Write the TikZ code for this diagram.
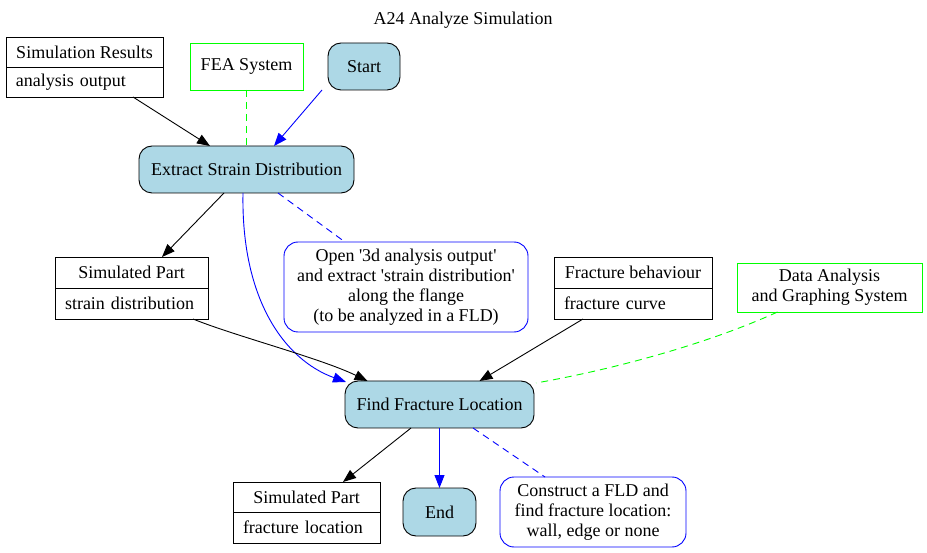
\documentclass[tikz,border=0pt]{standalone}
\usepackage{fontspec}
\setmainfont{Liberation Serif}
\usetikzlibrary{arrows.meta,calc}
\definecolor{lb}{RGB}{173,216,230}
\definecolor{gvgreen}{RGB}{0,255,0}
\definecolor{gvblue}{RGB}{0,0,255}
\begin{document}
\begin{tikzpicture}[x=1pt,y=-1pt,
  font=\fontsize{18}{20}\selectfont, line width=0.9pt,
  every node/.style={inner sep=0pt, outer sep=0pt},
  proc/.style={draw=black, fill=lb, rounded corners=13pt},
  rec/.style={draw=black},
  recb/.style={draw=black, align=left},
  sys/.style={draw=gvgreen},
  note/.style={draw=gvblue, rounded corners=14pt, align=center},
  arr/.style={-{Triangle[length=13pt,width=10pt]}},
  blk/.style={draw=black, arr},
  blu/.style={draw=gvblue, arr},
  gdash/.style={draw=gvgreen, dash pattern=on 7pt off 5pt},
  bdash/.style={draw=gvblue, dash pattern=on 7pt off 5pt}]
\useasboundingbox (0,0) rectangle (927,553);
\node (title) at (463,20) {A24 Analyze Simulation};
% records
\node[rec, minimum width=157pt, minimum height=30pt] (srt) at (84.5,52) {Simulation Results};
\node[recb, minimum width=157pt, minimum height=30pt, text width=137pt, anchor=north] (srb) at (srt.south) {analysis output};
\node[rec, minimum width=153pt, minimum height=31pt] (sp1t) at (131.5,272.5) {Simulated Part};
\node[recb, minimum width=153pt, minimum height=31pt, text width=133pt, anchor=north] (sp1b) at (sp1t.south) {strain distribution};
\node[rec, minimum width=158pt, minimum height=31pt] (fbt) at (633,272.5) {Fracture behaviour};
\node[recb, minimum width=158pt, minimum height=31pt, text width=138pt, anchor=north] (fbb) at (fbt.south) {fracture curve};
\node[rec, minimum width=147pt, minimum height=30pt] (sp2t) at (306.5,497) {Simulated Part};
\node[recb, minimum width=147pt, minimum height=31pt, text width=127pt, anchor=north] (sp2b) at (sp2t.south) {fracture location};
% systems
\node[sys, minimum width=113pt, minimum height=47pt] (fea) at (246.5,66.5) {FEA System};
\node[sys, minimum width=185pt, minimum height=49pt, align=center] (dags) at (829.5,287.5) {Data Analysis\\and Graphing System};
% processes
\node[proc, minimum width=72pt, minimum height=47pt] (st) at (364,66.5) {Start};
\node[proc, minimum width=215pt, minimum height=47pt] (esd) at (246.5,169.5) {Extract Strain Distribution};
\node[proc, minimum width=189pt, minimum height=47pt] (ffl) at (439.5,404.5) {Find Fracture Location};
\node[proc, minimum width=73pt, minimum height=48pt] (en) at (439.5,512) {End};
% notes
\node[note, minimum width=244pt, minimum height=90pt] (n1) at (406,287) {Open \textquotesingle 3d analysis output\textquotesingle\\and extract \textquotesingle strain distribution\textquotesingle\\along the flange\\(to be analyzed in a FLD)};
\node[note, minimum width=186pt, minimum height=70pt] (n2) at (593,512) {Construct a FLD and\\find fracture location:\\wall, edge or none};
% edges
\draw[blk] ($(srb.south)+(48.5,0)$) -- ($(esd.north)+(-36.5,0)$);
\draw[gdash] (fea.south) -- (esd.north);
\draw[blu] ($(st.south)+(-42,0)$) -- ($(esd.north)+(27.5,0)$);
\draw[blk] ($(esd.south)+(-22.5,0)$) -- ($(sp1t.north)+(30.5,0)$);
\draw[blu] ($(esd.south)+(-3.5,0)$) .. controls (241,300) and (285,360) .. ($(ffl.north west)+(1,1)$);
\draw[bdash] ($(esd.south)+(31.5,0)$) -- ($(n1.north)+(-61,0)$);
\draw[blk] ($(sp1b.south)+(61.5,0)$) .. controls (235,336) and (320,358) .. ($(ffl.north)+(-72,0)$);
\draw[blk] ($(fbb.south)+(-50,0)$) -- ($(ffl.north)+(40,0)$);
\draw[gdash] ($(dags.south)+(-52,0)$) .. controls (705,345) and (610,370) .. ($(ffl.north east)+(2,2)$);
\draw[blk] ($(ffl.south)+(-28.5,0)$) -- ($(sp2t.north)+(36.5,0)$);
\draw[blu] (ffl.south) -- (en.north);
\draw[bdash] ($(ffl.south)+(33.5,0)$) -- ($(n2.north)+(-48,0)$);
\end{tikzpicture}
\end{document}
